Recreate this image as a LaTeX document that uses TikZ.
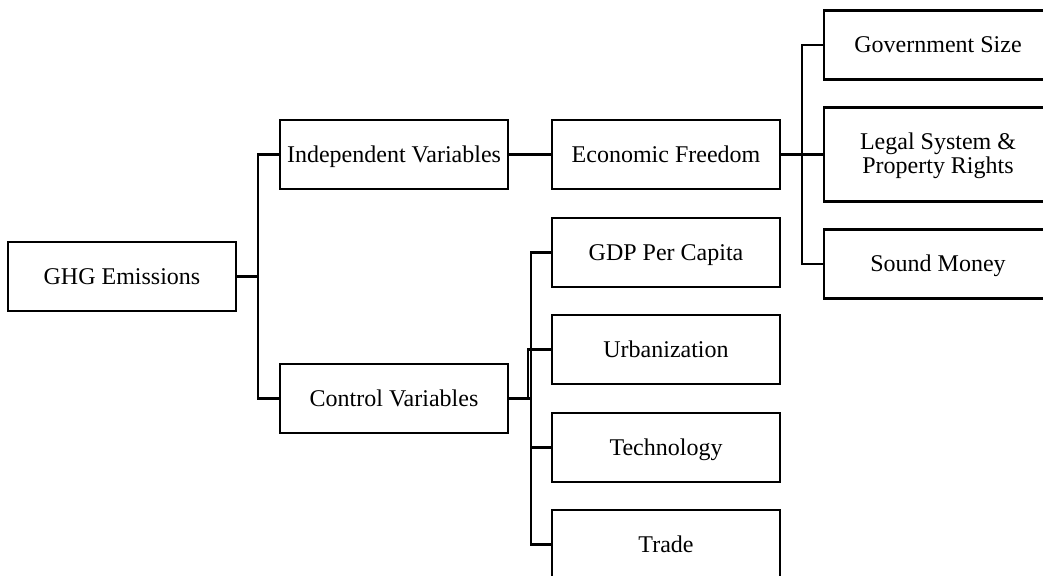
\documentclass[tikz,border=0pt]{standalone}
\usepackage{fontspec}
\setmainfont{Liberation Serif}
\usetikzlibrary{positioning}

\begin{document}
\begin{tikzpicture}[x=1pt,y=1pt,line width=2.2pt,
  box/.style={draw,rectangle,minimum width=228pt,minimum height=69pt,inner sep=0pt,
    outer sep=0pt,text height=17pt,text depth=2pt,align=center,font=\fontsize{24}{24}\selectfont}]

\clip (0,0) rectangle (1043,-575);

\node[box] (ghg) at (122,-276.5) {GHG Emissions};
\node[box,above right = 53pt and 44pt of ghg](indep){Independent Variables};
\node[box,below right = 53pt and 44pt of ghg](control){Control Variables};

\node[box,right = 44pt of indep](econ){Economic Freedom};
\node[box,minimum height=94pt,text height=41pt,text depth=3pt,right = 44pt of econ](legal){Legal System \&\\Property Rights};
\node[box,above = 28pt of legal](gov){Government Size};
\node[box,below = 28pt of legal](sound){Sound Money};

\node[box,below = 29pt of econ](gdp){GDP Per Capita};
\node[box,below = 28pt of gdp](urban){Urbanization};
\node[box,below = 29pt of urban](tech){Technology};
\node[box,below = 28pt of tech](trade){Trade};

\draw (ghg.east) -- ++(22,0) |- (indep.west);
\draw (ghg.east) -- ++(22,0) |- (control.west);
\draw (indep) -- (econ);

\foreach \n in {gov,legal,sound}
  \draw (econ.east) -- ++(22,0) |- (\n.west);

\foreach \n in {gdp,tech,trade}
  \draw (control.east) -- ++(23,0) |- (\n.west);
\draw (control.east) -- ++(20,0) |- (urban.west);
\end{tikzpicture}
\end{document}
